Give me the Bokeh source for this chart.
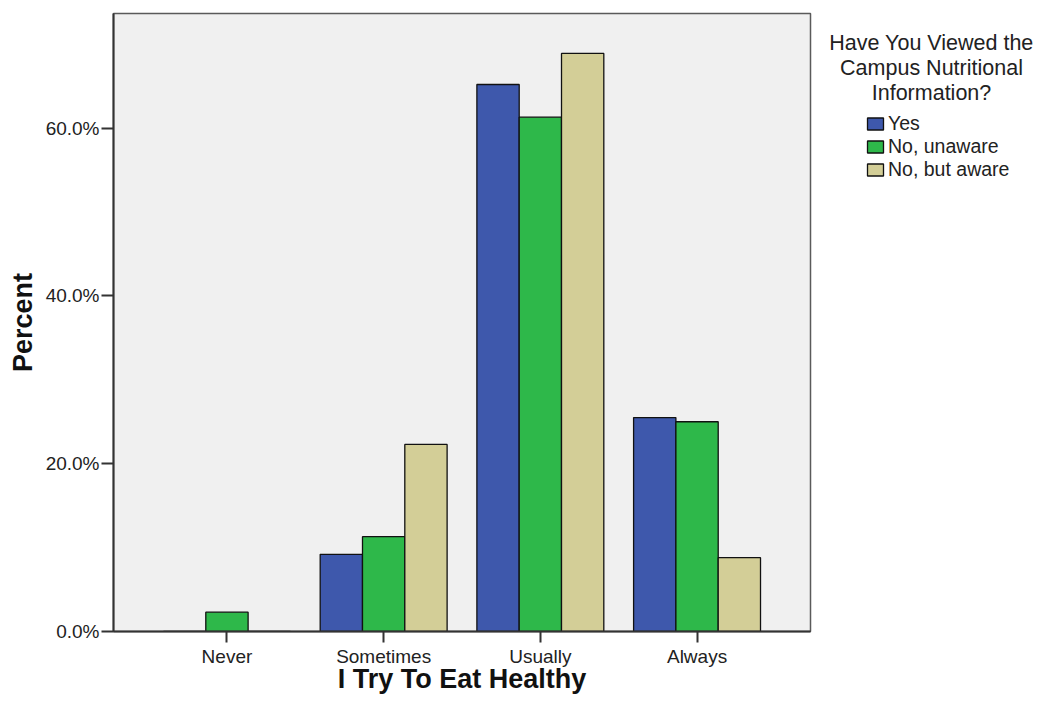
from bokeh.plotting import figure
from bokeh.layouts import row
from bokeh.models import (ColumnDataSource, FactorRange, Legend, LegendItem, Label,
                          PrintfTickFormatter, FixedTicker)
from bokeh.transform import dodge
from bokeh.embed import file_html
from bokeh.resources import INLINE

categories = ["Never", "Sometimes", "Usually", "Always"]
series = ["Yes", "No, unaware", "No, but aware"]
yes = [0.0, 9.2, 65.2, 25.5]
no_unaware = [2.3, 11.3, 61.3, 25.0]
no_but_aware = [0.0, 22.3, 68.9, 8.8]
colors = ["#3E58AC", "#2EB84A", "#D3CE97"]
y_ticks = [0, 20, 40, 60]
legend_title_lines = ["Have You Viewed the", "Campus Nutritional", "Information?"]
x_label = "I Try To Eat Healthy"
y_label = "Percent"

source = ColumnDataSource(data=dict(cat=categories, yes=yes, nu=no_unaware, nba=no_but_aware))

FONT = "Liberation Sans"
H = 697
PW = 812
LW = 1038 - PW
FT, FB = 13, 631  # frame top / bottom (canvas px)
p = figure(x_range=FactorRange(factors=categories, range_padding=0.224, range_padding_units="absolute"),
           y_range=(0, 73.66), width=PW, height=H, output_backend="svg", toolbar_location=None,
           min_border_left=113, min_border_top=FT, min_border_right=2, min_border_bottom=H - FB)

p.background_fill_color = "#F0F0F0"
p.border_fill_color = "white"
p.outline_line_color = "#5A5A5A"
p.outline_line_width = 1.5
p.xgrid.visible = False
p.ygrid.visible = False

bw = 0.27
offsets = [-bw, 0.0, bw]
cols = ["yes", "nu", "nba"]
for col, off, c in zip(cols, offsets, colors):
    p.vbar(x=dodge("cat", off, range=p.x_range), top=col, width=bw, source=source,
           fill_color=c, line_color="#111111", line_width=1.3)

# axes
p.yaxis.ticker = FixedTicker(ticks=y_ticks)
p.yaxis.formatter = PrintfTickFormatter(format="%.1f%%")
for ax in (p.xaxis[0], p.yaxis[0]):
    ax.axis_line_color = "#333333"
    ax.axis_line_width = 2
    ax.major_tick_line_color = "#333333"
    ax.major_tick_line_width = 2
    ax.major_tick_in = 0
    ax.minor_tick_line_color = None
    ax.major_label_text_font = FONT
    ax.major_label_text_color = "#222222"
    ax.major_label_text_font_size = "19px"
    ax.axis_label_text_font = FONT
    ax.axis_label_text_font_style = "bold"
    ax.axis_label_text_font_size = "27px"
    ax.axis_label_text_color = "#111111"

p.yaxis.major_tick_out = 12
p.yaxis.major_label_standoff = 2
p.yaxis.axis_label = y_label
p.yaxis.axis_label_standoff = 5

p.xaxis.major_tick_out = 11
p.xaxis.major_label_standoff = 3
p.xaxis.axis_label = x_label
p.xaxis.axis_label_standoff = -6

# legend panel as a separate figure (its frame is aligned with the chart's frame)
lf = figure(width=LW, height=H, x_range=(0, 1), y_range=(0, 1), output_backend="svg",
            toolbar_location=None, min_border=0, min_border_top=FT, min_border_bottom=H - FB)
lf.axis.visible = False
lf.grid.visible = False
lf.outline_line_color = None
lf.background_fill_color = "white"
lf.border_fill_color = "white"

nan = float("nan")
proxy = ColumnDataSource(data=dict(x=[nan], top=[nan]))
lrs = [lf.vbar(x="x", top="top", width=0.1, source=proxy, fill_color=c,
               line_color="#111111", line_width=1.3) for c in colors]
items = [LegendItem(label=s, renderers=[r], index=0) for s, r in zip(series, lrs)]
legend = Legend(items=items, location=(865 - PW, FB - 181),
                margin=0, padding=0, spacing=0, label_height=23, glyph_height=15, glyph_width=20,
                label_standoff=3, background_fill_alpha=0, border_line_color=None,
                label_text_font=FONT, label_text_font_size="19.5px", label_text_color="#222222")
lf.add_layout(legend, "center")

baselines = [42, 67, 92]
for line, b in zip(legend_title_lines, baselines):
    lf.add_layout(Label(x=931 - PW, y=FB - b, x_units="screen", y_units="screen",
                        text=line, text_align="center", text_baseline="alphabetic",
                        text_font=FONT, text_font_size="21.5px", text_color="#222222"))

layout = row(p, lf)
open("out.html", "w").write(file_html(layout, INLINE))
